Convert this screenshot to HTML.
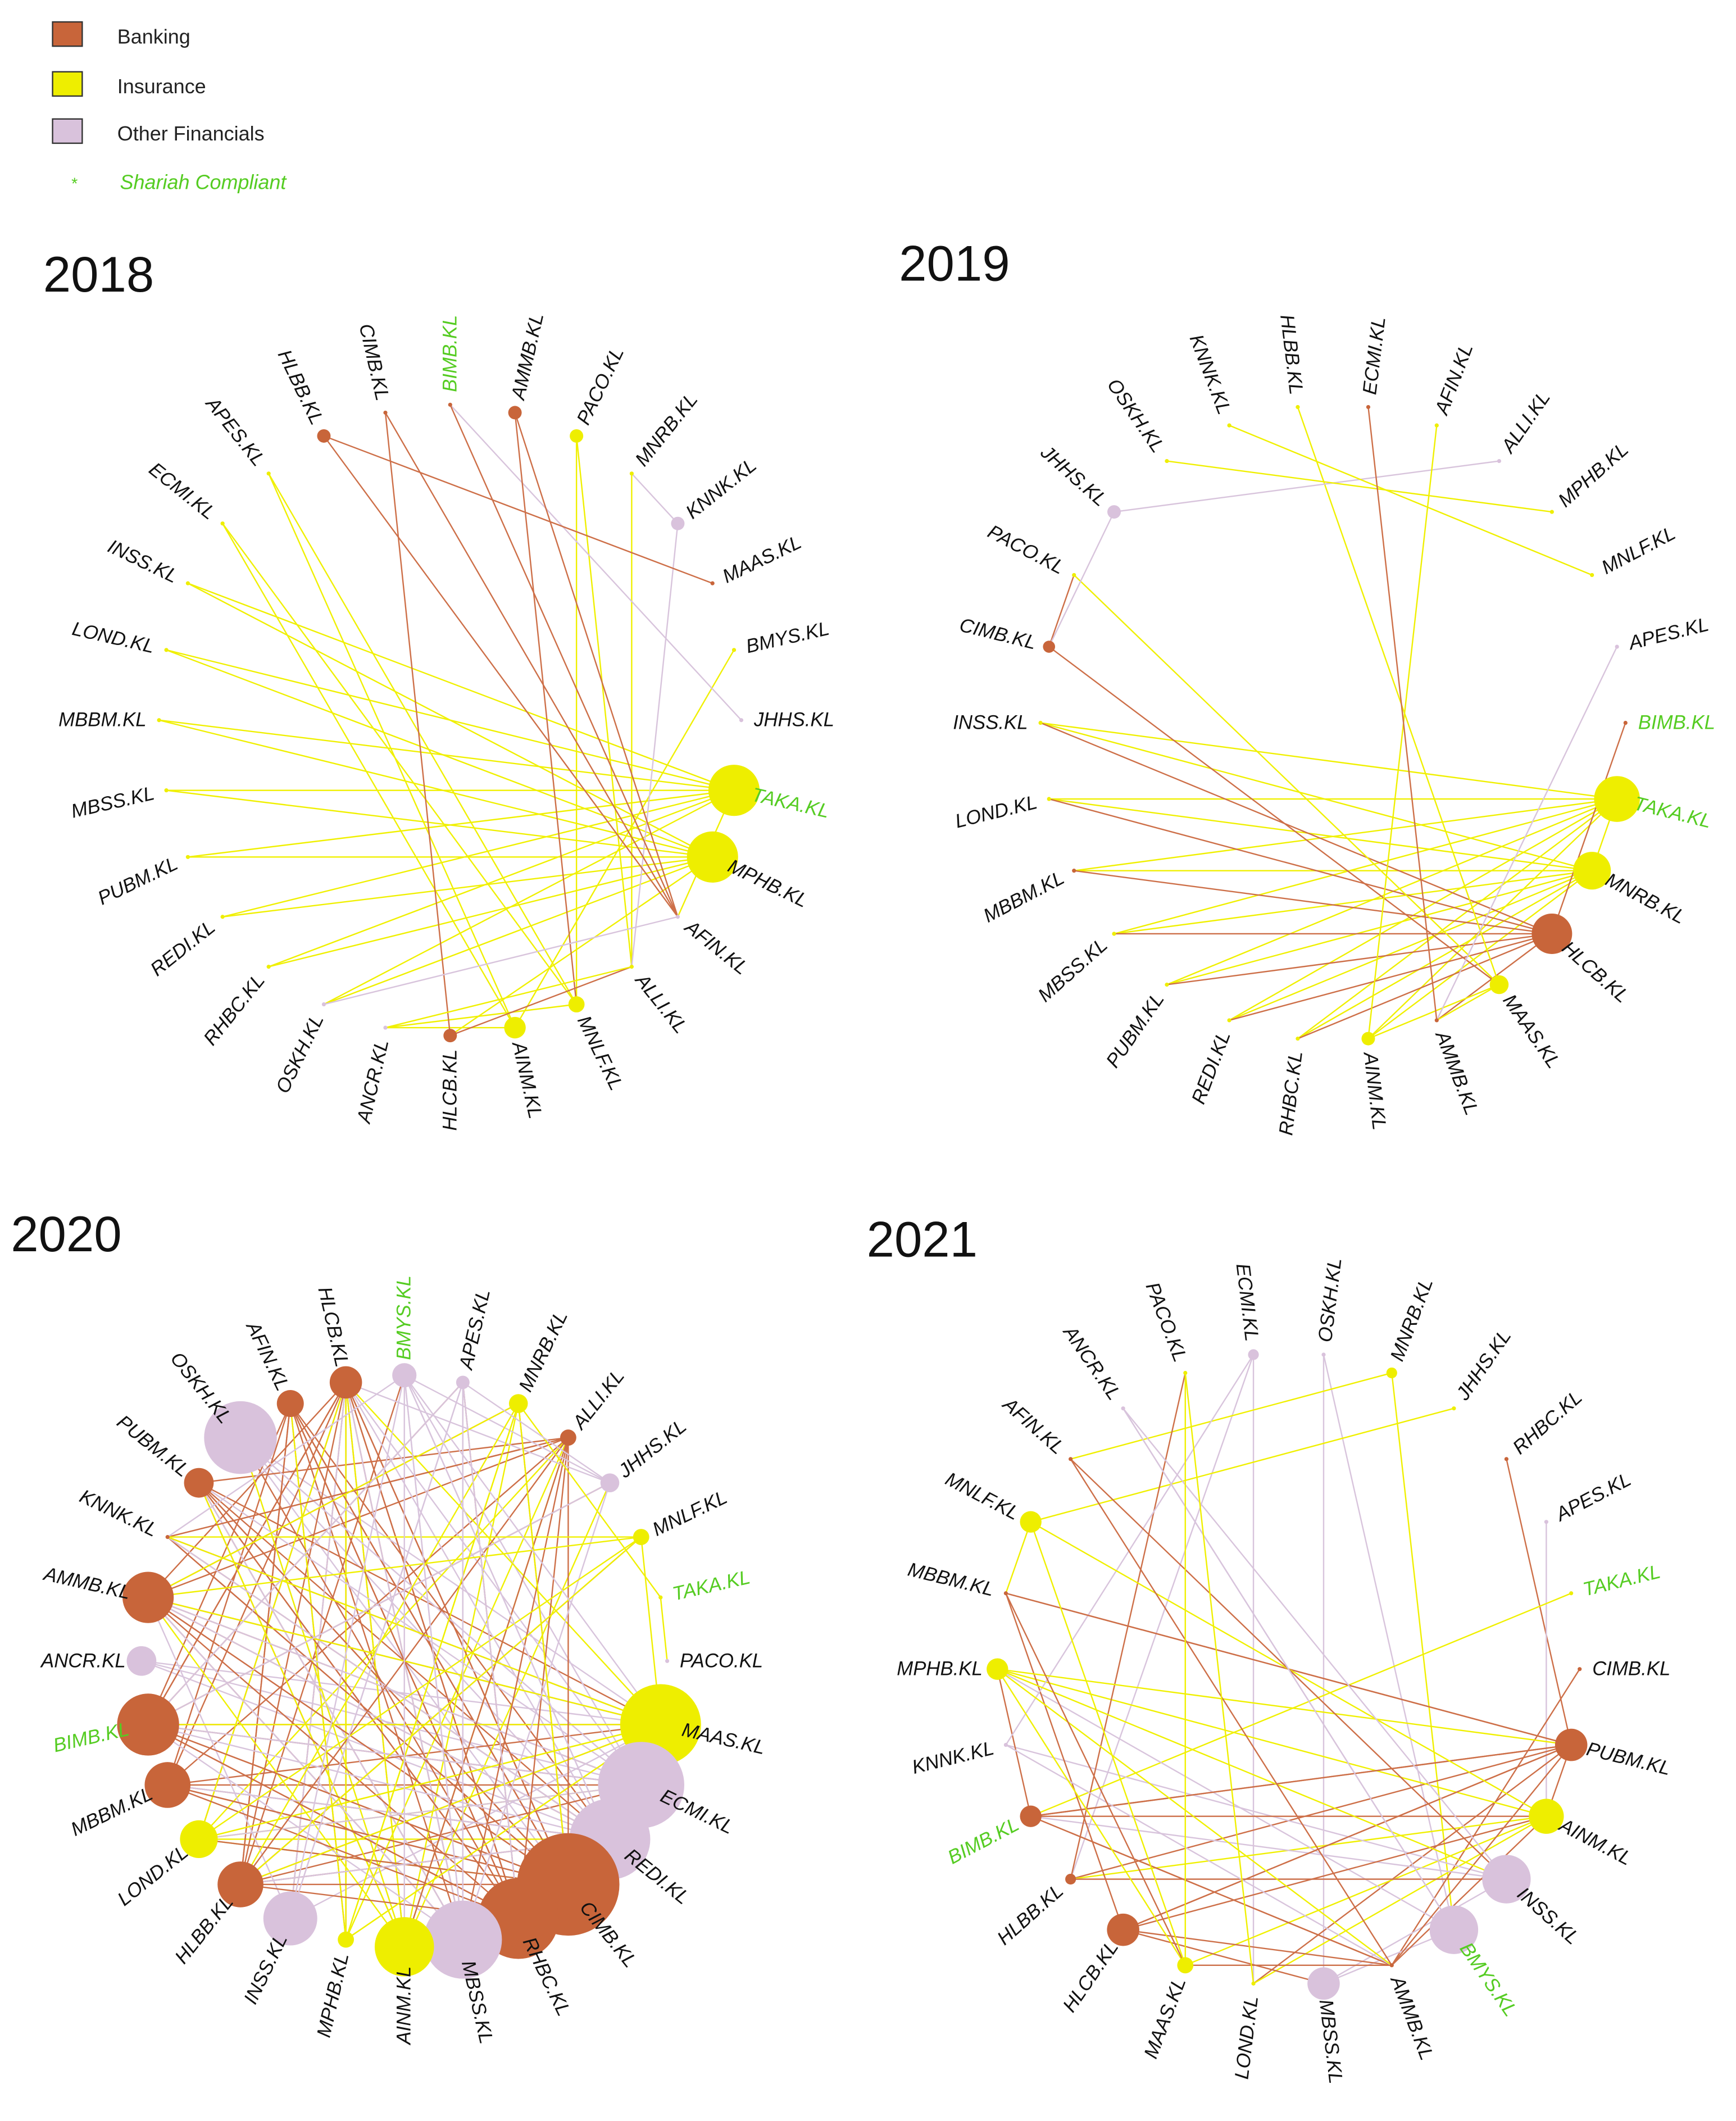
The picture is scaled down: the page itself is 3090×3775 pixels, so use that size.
<!DOCTYPE html>
<html><head><meta charset="utf-8"><style>
html,body{margin:0;padding:0;background:#fff}
svg{display:block}
text{font-family:"Liberation Sans",Arial,sans-serif}
</style></head><body>
<svg id="chart" width="3090" height="3775" viewBox="0 0 1288 1573" xmlns="http://www.w3.org/2000/svg">
<g>
 <rect x="39" y="16" width="22" height="18" fill="#c8653a" stroke="#333" stroke-width="1"/>
 <text x="87" y="32" font-size="15" fill="#222">Banking</text>
 <rect x="39" y="53" width="22" height="18" fill="#eeee00" stroke="#333" stroke-width="1"/>
 <text x="87" y="69" font-size="15" fill="#222">Insurance</text>
 <rect x="39" y="88" width="22" height="18" fill="#d9c2dc" stroke="#333" stroke-width="1"/>
 <text x="87" y="104" font-size="15" fill="#222">Other Financials</text>
 <text x="53" y="140" font-size="12" fill="#55cc22">*</text>
 <text x="89" y="140" font-size="15" font-style="italic" fill="#55cc22">Shariah Compliant</text>
</g>
<text x="32" y="216" font-size="37" fill="#111">2018</text>
<text x="667" y="208" font-size="37" fill="#111">2019</text>
<text x="8" y="928" font-size="37" fill="#111">2020</text>
<text x="643" y="932" font-size="37" fill="#111">2021</text>
</svg>
<script>
// ---- 2018 ----
const nodes2018 = ["BIMB","AMMB","PACO","MNRB","KNNK","MAAS","BMYS","JHHS","TAKA","MPHB","AFIN","ALLI","MNLF","AINM","HLCB","ANCR","OSKH","RHBC","REDI","PUBM","MBSS","MBBM","LOND","INSS","ECMI","APES","HLBB","CIMB"];
const cats2018 = ["B","B","I","I","O","B","I","O","I","I","O","I","I","I","B","O","O","I","I","I","I","I","I","I","I","I","B","B"];
const sizes2018 = [1.5,5,5,1.5,5,1.5,1.5,1.5,19,19,1.5,1.5,6,8,5,1.5,1.5,1.5,1.5,1.5,1.5,1.5,1.5,1.5,1.5,1.5,5,1.5];
const shariah2018 = ["BIMB","TAKA"];
const edges2018 = ["TAKA>INSS","TAKA>LOND","TAKA>MBBM","TAKA>MBSS","TAKA>PUBM","TAKA>REDI","TAKA>RHBC","TAKA>AFIN","TAKA>OSKH",
"MPHB>INSS","MPHB>LOND","MPHB>MBBM","MPHB>MBSS","MPHB>PUBM","MPHB>REDI","MPHB>RHBC","MPHB>HLCB","MPHB>OSKH",
"AINM>APES","AINM>ECMI","AINM>BMYS","AINM>ANCR","MNLF>APES","MNLF>ECMI","MNLF>ANCR","PACO>MNLF","PACO>ALLI","MNRB>ALLI",
"KNNK>MNRB","KNNK>ALLI","JHHS>BIMB","HLBB>MAAS","HLBB>AFIN","CIMB>HLCB","CIMB>AFIN","AMMB>MNLF","AMMB>AFIN","BIMB>AFIN","HLCB>ALLI","AFIN>OSKH","ALLI>ANCR"];
// ---- 2019 ----
const nodes2019 = ["HLBB","ECMI","AFIN","ALLI","MPHB","MNLF","APES","BIMB","TAKA","MNRB","HLCB","MAAS","AMMB","AINM","RHBC","REDI","PUBM","MBSS","MBBM","LOND","INSS","CIMB","PACO","JHHS","OSKH","KNNK"];
const cats2019 = ["I","B","I","O","I","I","O","B","I","I","B","I","B","I","I","I","I","I","B","I","I","B","I","O","I","I"];
const sizes2019 = [1.5,1.5,1.5,1.5,1.5,1.5,1.5,1.5,17,14,15,7,1.5,5,1.5,1.5,1.5,1.5,1.5,1.5,1.5,4.5,1.5,5,1.5,1.5];
const shariah2019 = ["BIMB","TAKA"];
const edges2019 = ["TAKA>INSS","TAKA>LOND","TAKA>MBBM","TAKA>MBSS","TAKA>PUBM","TAKA>REDI","TAKA>RHBC","TAKA>AINM","TAKA>MNRB",
"MNRB>INSS","MNRB>LOND","MNRB>MBBM","MNRB>MBSS","MNRB>PUBM","MNRB>REDI","MNRB>RHBC","MNRB>AINM",
"HLCB>INSS","HLCB>LOND","HLCB>MBBM","HLCB>MBSS","HLCB>PUBM","HLCB>REDI","HLCB>BIMB","HLCB>RHBC","HLCB>AMMB",
"MAAS>AINM","MAAS>AMMB","MAAS>HLBB","PACO>MAAS","CIMB>PACO","CIMB>MAAS","JHHS>ALLI","JHHS>CIMB","MPHB>OSKH","MNLF>KNNK","AINM>AFIN","AMMB>ECMI","APES>AMMB"];
// ---- 2020 ----
const nodes2020 = ["BMYS","APES","MNRB","ALLI","JHHS","MNLF","TAKA","PACO","MAAS","ECMI","REDI","CIMB","RHBC","MBSS","AINM","MPHB","INSS","HLBB","LOND","MBBM","BIMB","ANCR","AMMB","KNNK","PUBM","OSKH","AFIN","HLCB"];
const cats2020 = ["O","O","I","B","O","I","I","O","I","O","O","B","B","O","I","I","O","B","I","B","B","O","B","B","B","O","B","B"];
const sizes2020 = [9,5,7,6,7,6,1.5,1.5,30,32,30,38,30,29,22,6,20,17,14,17,23,11,19,1.5,11,27,10,12];
const shariah2020 = ["BMYS","TAKA","BIMB"];
const edges2020 = ["HLCB>MBSS","HLCB>RHBC","HLCB>CIMB","HLCB>AINM","HLCB>INSS","HLCB>LOND","HLCB>BIMB","HLCB>MPHB",
"AFIN>RHBC","AFIN>MBSS","AFIN>CIMB","AFIN>HLBB","AFIN>MPHB","AFIN>REDI",
"OSKH>REDI","OSKH>ECMI","OSKH>CIMB","OSKH>AINM","OSKH>MAAS",
"PUBM>MAAS","PUBM>CIMB","PUBM>RHBC","PUBM>AINM","PUBM>MBSS","PUBM>ALLI","PUBM>REDI",
"KNNK>REDI","KNNK>MAAS","KNNK>CIMB","KNNK>ALLI",
"AMMB>MAAS","AMMB>ECMI","AMMB>REDI","AMMB>CIMB","AMMB>HLCB","AMMB>ALLI","AMMB>MNRB","AMMB>MBSS",
"ANCR>MAAS","ANCR>REDI","ANCR>ECMI",
"BIMB>MAAS","BIMB>ECMI","BIMB>CIMB","BIMB>HLCB","BIMB>AFIN","BIMB>APES","BIMB>JHHS","BIMB>RHBC",
"MBBM>REDI","MBBM>CIMB","MBBM>MAAS","MBBM>HLCB","MBBM>AFIN","MBBM>ALLI","MBBM>ECMI",
"LOND>MAAS","LOND>HLCB","LOND>ALLI","LOND>CIMB","LOND>ECMI","LOND>REDI",
"HLBB>MAAS","HLBB>ECMI","HLBB>HLCB","HLBB>AFIN","HLBB>MNLF","HLBB>BMYS","HLBB>REDI",
"INSS>HLCB","INSS>MAAS","INSS>AMMB","INSS>APES",
"MPHB>AFIN","MPHB>ALLI","MPHB>HLCB","MPHB>MNRB","MPHB>MAAS",
"AINM>HLCB","AINM>OSKH","AINM>PUBM","AINM>AMMB","AINM>ALLI","AINM>JHHS","AINM>MNRB",
"MBSS>HLCB","MBSS>AMMB","MBSS>BIMB","MBSS>PUBM","MBSS>APES","MBSS>BMYS",
"RHBC>HLCB","RHBC>AFIN","RHBC>AMMB","RHBC>BIMB","RHBC>MBBM","RHBC>OSKH","RHBC>PUBM","RHBC>HLBB","RHBC>APES",
"CIMB>AFIN","CIMB>HLCB","CIMB>AMMB","CIMB>BIMB","CIMB>MBBM","CIMB>PUBM","CIMB>LOND","CIMB>HLBB","CIMB>KNNK","CIMB>MNRB",
"REDI>AMMB","REDI>BIMB","REDI>MBBM","REDI>HLCB","REDI>HLBB","REDI>BMYS","REDI>KNNK",
"ECMI>AMMB","ECMI>BIMB","ECMI>HLCB","ECMI>PUBM","ECMI>LOND","ECMI>BMYS","ECMI>OSKH",
"MAAS>BIMB","MAAS>AMMB","MAAS>HLBB","MAAS>LOND","MAAS>MPHB","MAAS>HLCB","MAAS>KNNK",
"ALLI>HLBB","ALLI>RHBC","ALLI>CIMB","ALLI>AINM","ALLI>MBSS","ALLI>KNNK",
"JHHS>BMYS","JHHS>HLCB","JHHS>BIMB","JHHS>MBSS",
"MNLF>MAAS","MNLF>LOND","MNLF>HLBB","MNLF>AMMB","MNLF>KNNK",
"TAKA>PACO","MNRB>AMMB","MNRB>HLBB","MNRB>MPHB","MNRB>TAKA","MNRB>CIMB",
"APES>INSS","APES>RHBC","APES>MBSS","APES>BIMB","APES>JHHS",
"BMYS>AINM","BMYS>MBSS","BMYS>INSS","BMYS>KNNK","BMYS>MAAS","BMYS>REDI"];
// ---- 2021 ----
const nodes2021 = ["ECMI","OSKH","MNRB","JHHS","RHBC","APES","TAKA","CIMB","PUBM","AINM","INSS","BMYS","AMMB","MBSS","LOND","MAAS","HLCB","HLBB","BIMB","KNNK","MPHB","MBBM","MNLF","AFIN","ANCR","PACO"];
const cats2021 = ["O","O","I","I","B","O","I","B","B","I","O","O","B","O","I","I","B","B","B","O","I","B","I","B","O","I"];
const sizes2021 = [4,1.5,4,1.5,1.5,1.5,1.5,1.5,12,13,18,18,1.5,12,1.5,6,12,4,8,1.5,8,1.5,8,1.5,1.5,1.5];
const shariah2021 = ["TAKA","BIMB","BMYS"];
const edges2021 = ["ECMI>LOND","ECMI>HLBB","OSKH>BMYS","OSKH>MBSS","MNRB>AFIN","MNRB>BMYS","JHHS>MNLF","RHBC>PUBM","APES>AINM",
"TAKA>BIMB","CIMB>AMMB","PUBM>MBBM","PUBM>BIMB","PUBM>HLCB","PUBM>LOND","PUBM>HLBB","PUBM>AINM",
"AINM>MPHB","AINM>HLBB","AINM>LOND","AINM>MAAS","INSS>BIMB","INSS>MBSS","INSS>KNNK","INSS>HLBB",
"BMYS>ANCR","BMYS>MBSS","BMYS>MPHB","AMMB>PUBM","AMMB>AINM","AMMB>HLCB","AMMB>MAAS","AMMB>BIMB",
"HLCB>PUBM","HLCB>AINM","HLCB>MBBM","HLCB>MBSS","HLBB>PACO","HLBB>INSS","BIMB>PUBM","BIMB>AINM","BIMB>AMMB","BIMB>MPHB",
"KNNK>ECMI","KNNK>AMMB","MPHB>PUBM","MPHB>MAAS","MPHB>INSS","MPHB>AMMB","MBBM>MAAS","MBBM>PUBM",
"MNLF>AINM","MNLF>MAAS","MNLF>MBBM","AFIN>AMMB","AFIN>INSS","ANCR>INSS","ANCR>BMYS","PACO>MAAS","PACO>LOND"];

const panels = [
 {id:"2018", nodes:nodes2018, cats:cats2018, sizes:sizes2018, shariah:shariah2018, edges:edges2018, cx:334, cy:534, rx:216, ry:234, half:false},
 {id:"2019", nodes:nodes2019, cats:cats2019, sizes:sizes2019, shariah:shariah2019, edges:edges2019, cx:989, cy:536, rx:217, ry:236, half:true},
 {id:"2020", nodes:nodes2020, cats:cats2020, sizes:sizes2020, shariah:shariah2020, edges:edges2020, cx:300, cy:1232, rx:195, ry:212, half:false},
 {id:"2021", nodes:nodes2021, cats:cats2021, sizes:sizes2021, shariah:shariah2021, edges:edges2021, cx:956, cy:1238, rx:216, ry:235, half:true}
];
const fillCol = {B:"#c8653a", I:"#eeee00", O:"#d9c2dc"};
const edgeCol = {B:"#cd6f48", I:"#f0f000", O:"#d8c4dc"};
const NS = "http://www.w3.org/2000/svg";
const svg = document.getElementById("chart");

panels.forEach(p => {
  const g = document.createElementNS(NS, "g");
  
  
  svg.appendChild(g);
  const n = p.nodes.length;
  const pos = {};
  p.nodes.forEach((name, i) => {
    const a = (-90 - (p.half ? 180 / n : 0) + i * 360 / n) * Math.PI / 180;
    pos[name] = {a: a, x: p.cx + p.rx * Math.cos(a), y: p.cy + p.ry * Math.sin(a), i: i};
  });
  const eg = document.createElementNS(NS, "g");
  
  
  g.appendChild(eg);
  p.edges.forEach(e => {
    const [s, t] = e.split(">");
    const A = pos[s], B = pos[t];
    if (!A || !B) return;
    const l = document.createElementNS(NS, "line");
    
    
    l.setAttribute("x1", A.x); l.setAttribute("y1", A.y);
    l.setAttribute("x2", B.x); l.setAttribute("y2", B.y);
    l.setAttribute("stroke", edgeCol[p.cats[A.i]]);
    l.setAttribute("stroke-width", "1");
    eg.appendChild(l);
  });
  p.nodes.forEach((name, i) => {
    const P = pos[name];
    const r = p.sizes[i];
    const c = document.createElementNS(NS, "circle");
    
    
    c.setAttribute("cx", P.x); c.setAttribute("cy", P.y); c.setAttribute("r", r);
    c.setAttribute("fill", fillCol[p.cats[i]]);
    g.appendChild(c);
  });
  p.nodes.forEach((name, i) => {
    const P = pos[name];
    const r = p.sizes[i];
    const off = 9 + r * 0.25;
    const lx = P.x + off * Math.cos(P.a);
    const ly = P.y + off * Math.sin(P.a);
    const cs = Math.cos(P.a), sn = Math.sin(P.a);
    const right = cs > 1e-6 || (Math.abs(cs) <= 1e-6 && sn < 0);
    let deg = P.a * 180 / Math.PI;
    const t = document.createElementNS(NS, "text");
    
    
    t.setAttribute("x", lx); t.setAttribute("y", ly);
    t.setAttribute("font-size", "14.5");
    t.setAttribute("font-style", "italic");
    t.setAttribute("dominant-baseline", "central");
    if (right) { t.setAttribute("text-anchor", "start"); }
    else { t.setAttribute("text-anchor", "end"); deg += 180; }
    t.setAttribute("transform", "rotate(" + deg + " " + lx + " " + ly + ")");
    t.setAttribute("fill", p.shariah.includes(name) ? "#55cc22" : "#111");
    t.textContent = name + ".KL";
    g.appendChild(t);
  });
});
</script>
</body></html>
